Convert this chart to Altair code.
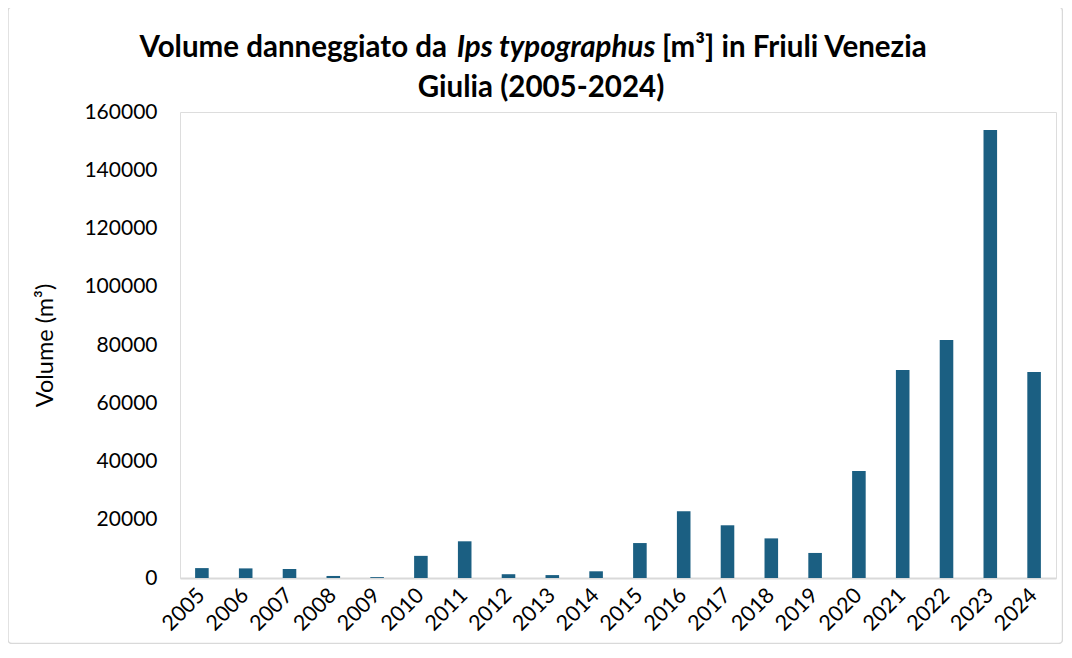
import altair as alt
import pandas as pd

years = [str(y) for y in range(2005, 2025)]
volumes = [3400, 3300, 3100, 700, 300, 7600, 12600, 1300, 1000, 2300,
           12000, 22900, 18100, 13600, 8600, 36700, 71400, 81700, 153800, 70700]
y_ticks = [0, 20000, 40000, 60000, 80000, 100000, 120000, 140000, 160000]

title_part1 = "Volume danneggiato da"
title_part2 = "Ips typographus"
title_part3 = "[m³] in Friuli Venezia"
title_line2 = "Giulia (2005-2024)"
y_title = "Volume (m³)"

df = pd.DataFrame({"year": years, "volume": volumes})
dummy = pd.DataFrame({"k": [0]})

FONT = "Lato"
W, H = 876, 466

bars = alt.Chart(df).mark_bar(color="#1B5F82").encode(
    x=alt.X("year:N", sort=years,
            scale=alt.Scale(paddingInner=0.69, paddingOuter=0.345),
            axis=alt.Axis(title=None, labelAngle=-45, labelFont=FONT, labelFontSize=21.5,
                          labelColor="#000000", ticks=False, domainColor="#D9D9D9",
                          domainWidth=2, labelPadding=14, labelAlign="right",
                          labelBaseline="middle")),
    y=alt.Y("volume:Q", scale=alt.Scale(domain=[0, 160000], nice=False),
            axis=alt.Axis(title=y_title, values=y_ticks, format="d", grid=False,
                          domain=False, ticks=False, labelFont=FONT, labelFontSize=21,
                          labelColor="#000000", labelPadding=23, titleFont=FONT,
                          titleFontSize=23.5, titleFontWeight="normal", titleColor="#000000",
                          titlePadding=26)),
)

def txt(text, x, y, align, style="normal"):
    return alt.Chart(dummy).mark_text(
        font=FONT, fontSize=29.5, fontWeight="bold", fontStyle=style,
        align=align, baseline="alphabetic", color="#000000"
    ).encode(x=alt.value(x), y=alt.value(y), text=alt.value(text))

border = alt.Chart(dummy).mark_rect(fill=None, stroke="#D9D9D9", strokeWidth=1.5,
                                     cornerRadius=4).encode(
    x=alt.value(-172), x2=alt.value(882.5), y=alt.value(-105), y2=alt.value(531.5)
)

chart = alt.layer(
    border,
    bars,
    txt(title_part1, 267, -55, "right"),
    txt(title_part2, 376, -55, "center", "italic"),
    txt(title_part3, 482, -55, "left"),
    txt(title_line2, 361, -15, "center"),
).properties(
    width=W, height=H,
    autosize=alt.AutoSizeParams(type="none"),
    padding={"left": 172, "top": 104, "right": 7, "bottom": 66},
).configure_view(stroke=None).configure(background="white")

chart.save("out.html", embed_options={"renderer": "svg", "actions": False})
